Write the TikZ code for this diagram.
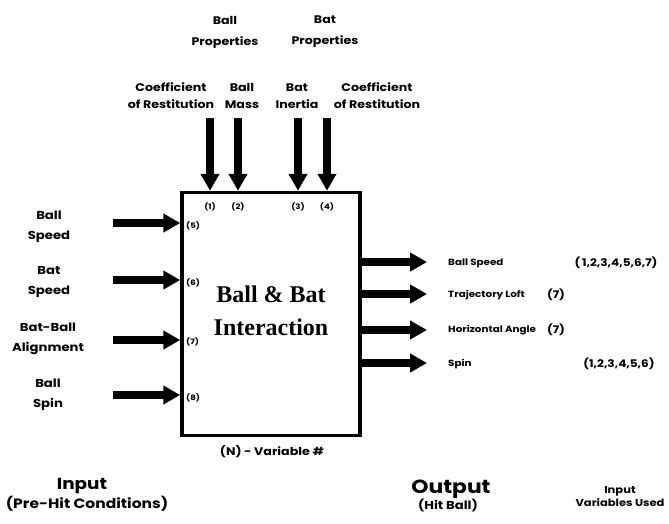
\documentclass[tikz,border=0pt]{standalone}
\usepackage{fontspec}
\setsansfont{Poppins}[BoldFont={* Bold}, FakeStretch=1.15]
\newfontfamily\titlefont{Liberation Serif}
\usepackage{tikz}
\usetikzlibrary{arrows.meta, positioning, calc}

\begin{document}
\begin{tikzpicture}[
    x=1pt, y=-1pt,
    lbl/.style={font=\sffamily\bfseries\fontsize{#1}{#1}\selectfont, align=center, inner sep=0pt},
    outlbl/.style={font=\sffamily\bfseries\fontsize{9}{10}\selectfont, inner sep=0pt},
    varlist/.style={font=\sffamily\bfseries\fontsize{10.5}{11}\selectfont, inner sep=0pt},
    num/.style={font=\sffamily\bfseries\fontsize{7.5}{9}\selectfont, inner sep=0pt},
    headline/.style={font=\sffamily\bfseries\fontsize{#1}{#1}\selectfont, inner sep=0pt},
    bigarrow/.style={line width=8pt, -{Triangle[length=17pt, width=18pt]}},
    core/.style={rectangle, draw, line width=3.5pt, minimum width=178, minimum height=243, inner sep=0pt}
]
\useasboundingbox (0,0) rectangle (669,523);

% Interaction box
\node[core] (core) at (271,314) {};
\node[font=\titlefont\bfseries\fontsize{24}{33}\selectfont, align=center] (title) at (271,311) {Ball \& Bat\\Interaction};
\node[lbl=11] (legend) at (272,452) {(N) - Variable \#};

% Property groups (top)
\node[lbl=11, font=\sffamily\bfseries\fontsize{11}{21}\selectfont] (ballprop) at (225,32) {Ball\\Properties};
\node[lbl=11, font=\sffamily\bfseries\fontsize{11}{21}\selectfont] (batprop) at (325,32) {Bat\\Properties};

% Top inputs
\node[lbl=11, font=\sffamily\bfseries\fontsize{11}{17}\selectfont] (cor1) at (171,96) {Coefficient\\of Restitution};
\node[lbl=11, font=\sffamily\bfseries\fontsize{11}{17}\selectfont] (mass) at (242,96) {Ball\\Mass};
\node[lbl=11, font=\sffamily\bfseries\fontsize{11}{17}\selectfont] (inertia) at (297,96) {Bat\\Inertia};
\node[lbl=11, font=\sffamily\bfseries\fontsize{11}{17}\selectfont] (cor2) at (377,96) {Coefficient\\of Restitution};

\coordinate (t1) at (210,118);
\coordinate (t2) at (238,118);
\coordinate (t3) at (298,118);
\coordinate (t4) at (327,118);
\draw[bigarrow] (t1) -- (t1 |- core.north);
\draw[bigarrow] (t2) -- (t2 |- core.north);
\draw[bigarrow] (t3) -- (t3 |- core.north);
\draw[bigarrow] (t4) -- (t4 |- core.north);

\node[num] (n1) at (210,207) {(1)};
\node[num] (n2) at (238,207) {(2)};
\node[num] (n3) at (298,207) {(3)};
\node[num] (n4) at (327,207) {(4)};

% Left inputs
\node[lbl=11, font=\sffamily\bfseries\fontsize{11.5}{20}\selectfont] (ballspeed) at (49,227) {Ball\\Speed};
\node[lbl=11, font=\sffamily\bfseries\fontsize{11.5}{20}\selectfont] (batspeed) at (49,282) {Bat\\Speed};
\node[lbl=11, font=\sffamily\bfseries\fontsize{11.5}{20}\selectfont] (align) at (48,339) {Bat-Ball\\Alignment};
\node[lbl=11, font=\sffamily\bfseries\fontsize{11.5}{20}\selectfont] (ballspin) at (48,395) {Ball\\Spin};

\coordinate (l5) at (113,223);
\coordinate (l6) at (113,280);
\coordinate (l7) at (113,340);
\coordinate (l8) at (113,395);
\draw[bigarrow] (l5) -- (l5 -| core.west);
\draw[bigarrow] (l6) -- (l6 -| core.west);
\draw[bigarrow] (l7) -- (l7 -| core.west);
\draw[bigarrow] (l8) -- (l8 -| core.west);

\node[num, anchor=west] (n5) at (186,226) {(5)};
\node[num, anchor=west] (n6) at (186,283) {(6)};
\node[num, anchor=west] (n7) at (186,342) {(7)};
\node[num, anchor=west] (n8) at (186,398) {(8)};

% Outputs
\coordinate (r1) at (427,262);
\coordinate (r2) at (427,294);
\coordinate (r3) at (427,330);
\coordinate (r4) at (427,363);
\draw[bigarrow] (r1 -| core.east) -- (r1);
\draw[bigarrow] (r2 -| core.east) -- (r2);
\draw[bigarrow] (r3 -| core.east) -- (r3);
\draw[bigarrow] (r4 -| core.east) -- (r4);

\node[outlbl, anchor=west] (o1) at (448,263) {Ball Speed};
\node[outlbl, anchor=west] (o2) at (448,295) {Trajectory Loft};
\node[outlbl, anchor=west] (o3) at (448,330) {Horizontal Angle};
\node[outlbl, anchor=west] (o4) at (448,364) {Spin};

\node[varlist] (v1) at (616,263) {(\,1,2,3,4,5,6,7)};
\node[varlist] (v2) at (556,295) {(7)};
\node[varlist] (v3) at (556,330) {(7)};
\node[varlist] (v4) at (619,364) {(1,2,3,4,5,6)};

% Column headings (bottom)
\node[headline=16] (inhead) at (82,486) {Input};
\node[headline=13.5] (insub) at (87,504) {(Pre-Hit Conditions)};
\node[headline=19] (outhead) at (451,489) {Output};
\node[headline=11.5] (outsub) at (448,505) {(Hit Ball)};
\node[lbl=11, font=\sffamily\bfseries\fontsize{10}{13}\selectfont] (used) at (620,497) {Input\\Variables Used};

\end{tikzpicture}
\end{document}
